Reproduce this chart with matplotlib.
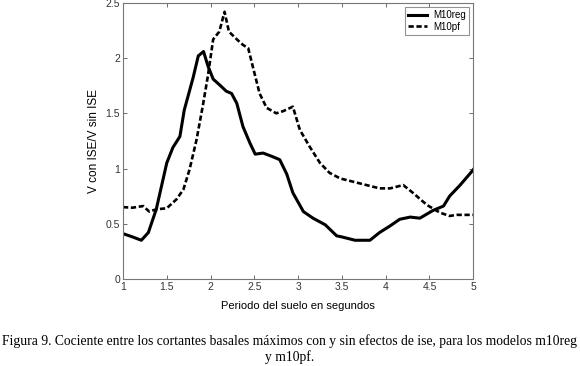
import numpy as np
import matplotlib.pyplot as plt

# periodo del suelo (s) y cociente V con ISE / V sin ISE
t_reg = [1.0, 1.11, 1.21, 1.29, 1.38, 1.50, 1.57, 1.65, 1.70, 1.80, 1.86, 1.92, 1.97,
         2.03, 2.10, 2.18, 2.24, 2.30, 2.37, 2.45, 2.51, 2.60, 2.70, 2.79, 2.87, 2.94,
         3.06, 3.17, 3.31, 3.44, 3.50, 3.65, 3.82, 3.93, 4.05, 4.16, 4.28, 4.39, 4.54,
         4.66, 4.73, 4.85, 4.98, 5.0]
v_reg = [0.41, 0.38, 0.35, 0.42, 0.63, 1.05, 1.19, 1.29, 1.53, 1.82, 2.02, 2.06, 1.93,
         1.81, 1.76, 1.70, 1.68, 1.59, 1.38, 1.23, 1.13, 1.14, 1.11, 1.08, 0.95, 0.78,
         0.61, 0.55, 0.49, 0.39, 0.38, 0.35, 0.35, 0.42, 0.48, 0.54, 0.56, 0.55, 0.62,
         0.66, 0.75, 0.85, 0.97, 0.99]

t_pf = [1.0, 1.11, 1.23, 1.30, 1.38, 1.50, 1.61, 1.69, 1.76, 1.84, 1.91, 1.97, 2.03,
        2.10, 2.16, 2.21, 2.30, 2.37, 2.43, 2.49, 2.56, 2.64, 2.75, 2.83, 2.94, 3.02,
        3.13, 3.25, 3.36, 3.48, 3.63, 3.78, 3.93, 4.05, 4.20, 4.31, 4.47, 4.62, 4.73,
        4.81, 5.0]
v_pf = [0.65, 0.645, 0.66, 0.61, 0.63, 0.64, 0.72, 0.81, 0.99, 1.26, 1.56, 1.84, 2.17,
        2.24, 2.42, 2.24, 2.17, 2.12, 2.09, 1.90, 1.68, 1.55, 1.50, 1.52, 1.56, 1.35,
        1.20, 1.05, 0.96, 0.91, 0.88, 0.85, 0.82, 0.82, 0.85, 0.78, 0.67, 0.60, 0.57,
        0.58, 0.58]

fig = plt.figure(figsize=(5.8, 3.66), dpi=100)
ax = fig.add_axes([0.212, 0.238, 0.604, 0.754])

ax.plot(t_reg, v_reg, color='k', lw=2.2, label='M10reg')
ax.plot(t_pf, v_pf, color='k', lw=1.9, ls=(0, (2, 1)), label='M10pf')

ax.set_xlim(1, 5)
ax.set_ylim(0, 2.5)
ax.set_xticks(np.arange(1, 5.01, 0.5))
ax.set_xticklabels(['1', '1.5', '2', '2.5', '3', '3.5', '4', '4.5', '5'])
ax.set_yticks(np.arange(0, 2.51, 0.5))
ax.set_yticklabels(['0', '0.5', '1', '1.5', '2', '2.5'])
ax.tick_params(direction='in', top=True, right=True, length=3, width=0.6,
               labelsize=7.5, labelcolor='#333333', color='#555555', pad=2)
for s in ax.spines.values():
    s.set_color('#777777')
    s.set_linewidth(0.8)

ax.set_xlabel('Periodo del suelo en segundos', fontsize=8, family='Liberation Sans', labelpad=7)
ax.set_ylabel('V con ISE/V sin ISE', fontsize=8.5, family='Liberation Sans', labelpad=4)
for lab in ax.get_xticklabels() + ax.get_yticklabels():
    lab.set_family('Liberation Sans')

leg = ax.legend(loc='upper right', frameon=True, fancybox=False,
                handlelength=2.0, borderpad=0.3, labelspacing=0.15, borderaxespad=0.45,
                handletextpad=0.6, prop={'family': 'Liberation Sans', 'size': 7})
leg.get_frame().set_edgecolor('#777777')
leg.get_frame().set_linewidth(0.8)

fig.text(0.5, 0.068, 'Figura 9. Cociente entre los cortantes basales máximos con y sin efectos de ise, para los modelos m10reg',
         ha='center', va='center', fontsize=9.8, family='Liberation Serif')
fig.text(0.5, 0.025, 'y m10pf.', ha='center', va='center', fontsize=9.8, family='Liberation Serif')

fig.savefig('out.png', dpi=100)
